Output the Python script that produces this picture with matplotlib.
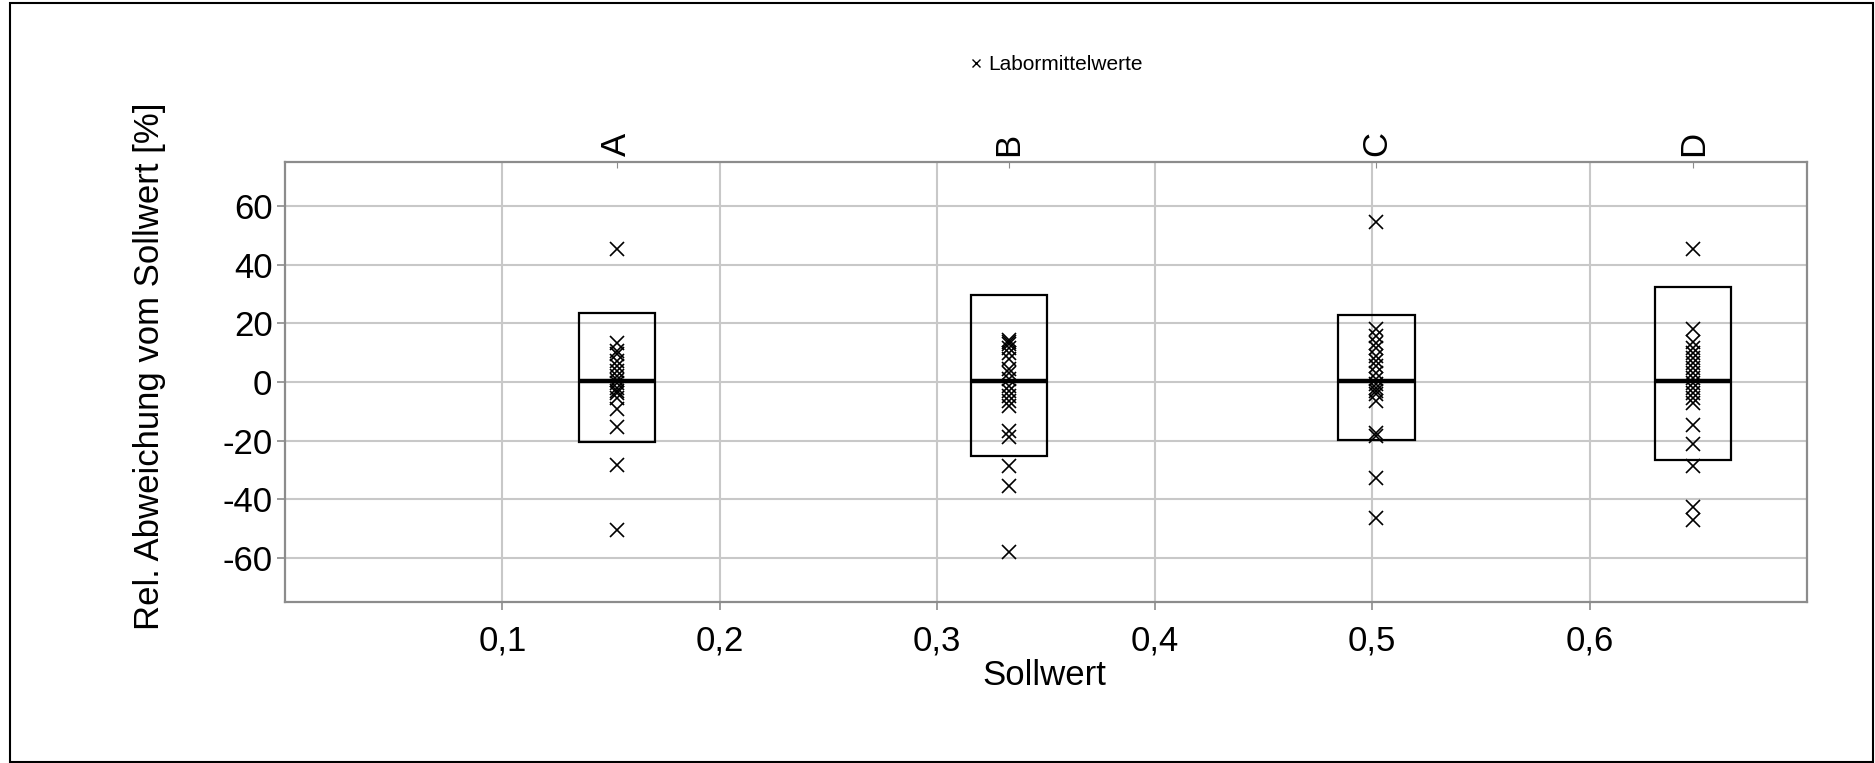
import matplotlib
matplotlib.use("Agg")
import matplotlib.pyplot as plt
from matplotlib.patches import Rectangle
from matplotlib.lines import Line2D

plt.rcParams['font.family'] = ['Liberation Sans', 'DejaVu Sans']

# Data
categories = ["A", "B", "C", "D"]
positions = [0.1525, 0.333, 0.502, 0.6477]
box_upper = [23.6, 29.5, 23.0, 32.3]
box_lower = [-20.4, -25.1, -19.7, -26.5]
box_median = [0.3, 0.3, 0.3, 0.3]

points_A = [45.4, 13.4, 10.5, 9.4, 7.1, 5.4, 3.7, 2.0, 0.8, -0.2, -1.9, -3.0, -3.6, -5.3, -9.3, -15.5, -28.3, -50.6]
points_B = [14.2, 13.5, 12.8, 11.7, 10.0, 7.7, 4.3, 3.2, 0.9, -1.4, -3.1, -4.8, -6.5, -8.2, -16.7, -18.9, -28.5, -35.3, -57.9]
points_C = [54.5, 18.2, 15.6, 13.4, 11.7, 8.8, 7.1, 5.4, 3.2, 0.9, -0.8, -1.9, -3.0, -4.2, -6.5, -17.4, -18.3, -32.8, -46.4]
points_D = [45.4, 17.9, 13.6, 11.7, 10.0, 8.3, 6.6, 4.9, 3.2, 1.5, -0.2, -1.9, -3.6, -5.3, -7.0, -14.7, -21.2, -28.7, -42.7, -47.2]
all_points = [points_A, points_B, points_C, points_D]

xticks = [0.1, 0.2, 0.3, 0.4, 0.5, 0.6]
xtick_labels = ["0,1", "0,2", "0,3", "0,4", "0,5", "0,6"]
yticks = [-60, -40, -20, 0, 20, 40, 60]

fig = plt.figure(figsize=(18.75, 7.63), dpi=100)
ax = fig.add_axes([285/1875, 1-602/763, (1807-285)/1875, (602-162)/763])

grid_c = "#c8c8c8"
spine_c = "#8c8c8c"
fs = 25

ax.set_xlim(0, 0.7)
ax.set_ylim(-75, 75)
ax.set_xticks(xticks)
ax.set_xticklabels(xtick_labels)
ax.set_yticks(yticks)
ax.set_yticklabels([str(v) for v in yticks])
ax.grid(True, color=grid_c, linewidth=1.5, zorder=0)
ax.set_axisbelow(True)
for s in ax.spines.values():
    s.set_color(spine_c)
    s.set_linewidth(1.6)
ax.tick_params(axis='both', labelsize=fs, color=spine_c, length=6, width=1.2)
ax.tick_params(axis='x', pad=10)
ax.tick_params(axis='y', pad=3)

bw = 0.035
for pos, up, lo, med, pts in zip(positions, box_upper, box_lower, box_median, all_points):
    ax.add_patch(Rectangle((pos - bw/2, lo), bw, up - lo, fill=False,
                           edgecolor='black', linewidth=1.6, zorder=3))
    ax.hlines(med, pos - bw/2, pos + bw/2, colors='black', linewidth=3.2, zorder=4)
    ax.plot([pos]*len(pts), pts, linestyle='none', marker='x', color='black',
            markersize=9.5, markeredgewidth=1.2, zorder=5)

ax.set_xlabel("Sollwert", fontsize=fs)
ax.xaxis.set_label_coords(0.4987, -0.13)
ax.set_ylabel("Rel. Abweichung vom Sollwert [%]", fontsize=fs, va='center')
ax.yaxis.set_label_coords(-0.0887, 0.536)

sec = ax.secondary_xaxis('top')
sec.set_xticks(positions)
sec.set_xticklabels(categories, rotation=90, fontsize=fs)
sec.tick_params(axis='x', direction='in', length=4, color=spine_c, pad=4)
sec.spines['top'].set_visible(False)

handle = Line2D([], [], linestyle='none', marker='x', color='black',
                markersize=6, markeredgewidth=1.0)
fig.legend([handle], ["Labormittelwerte"], loc='center',
           bbox_to_anchor=(1056/1875, 1-65/763), frameon=False,
           fontsize=15, handlelength=0.6, handletextpad=0.3)

fig.add_artist(Rectangle((10/1875, 1/763), (1873-10)/1875, (760-1)/763,
                         transform=fig.transFigure, fill=False,
                         edgecolor='black', linewidth=1.5))

fig.savefig("out.png", dpi=100)
